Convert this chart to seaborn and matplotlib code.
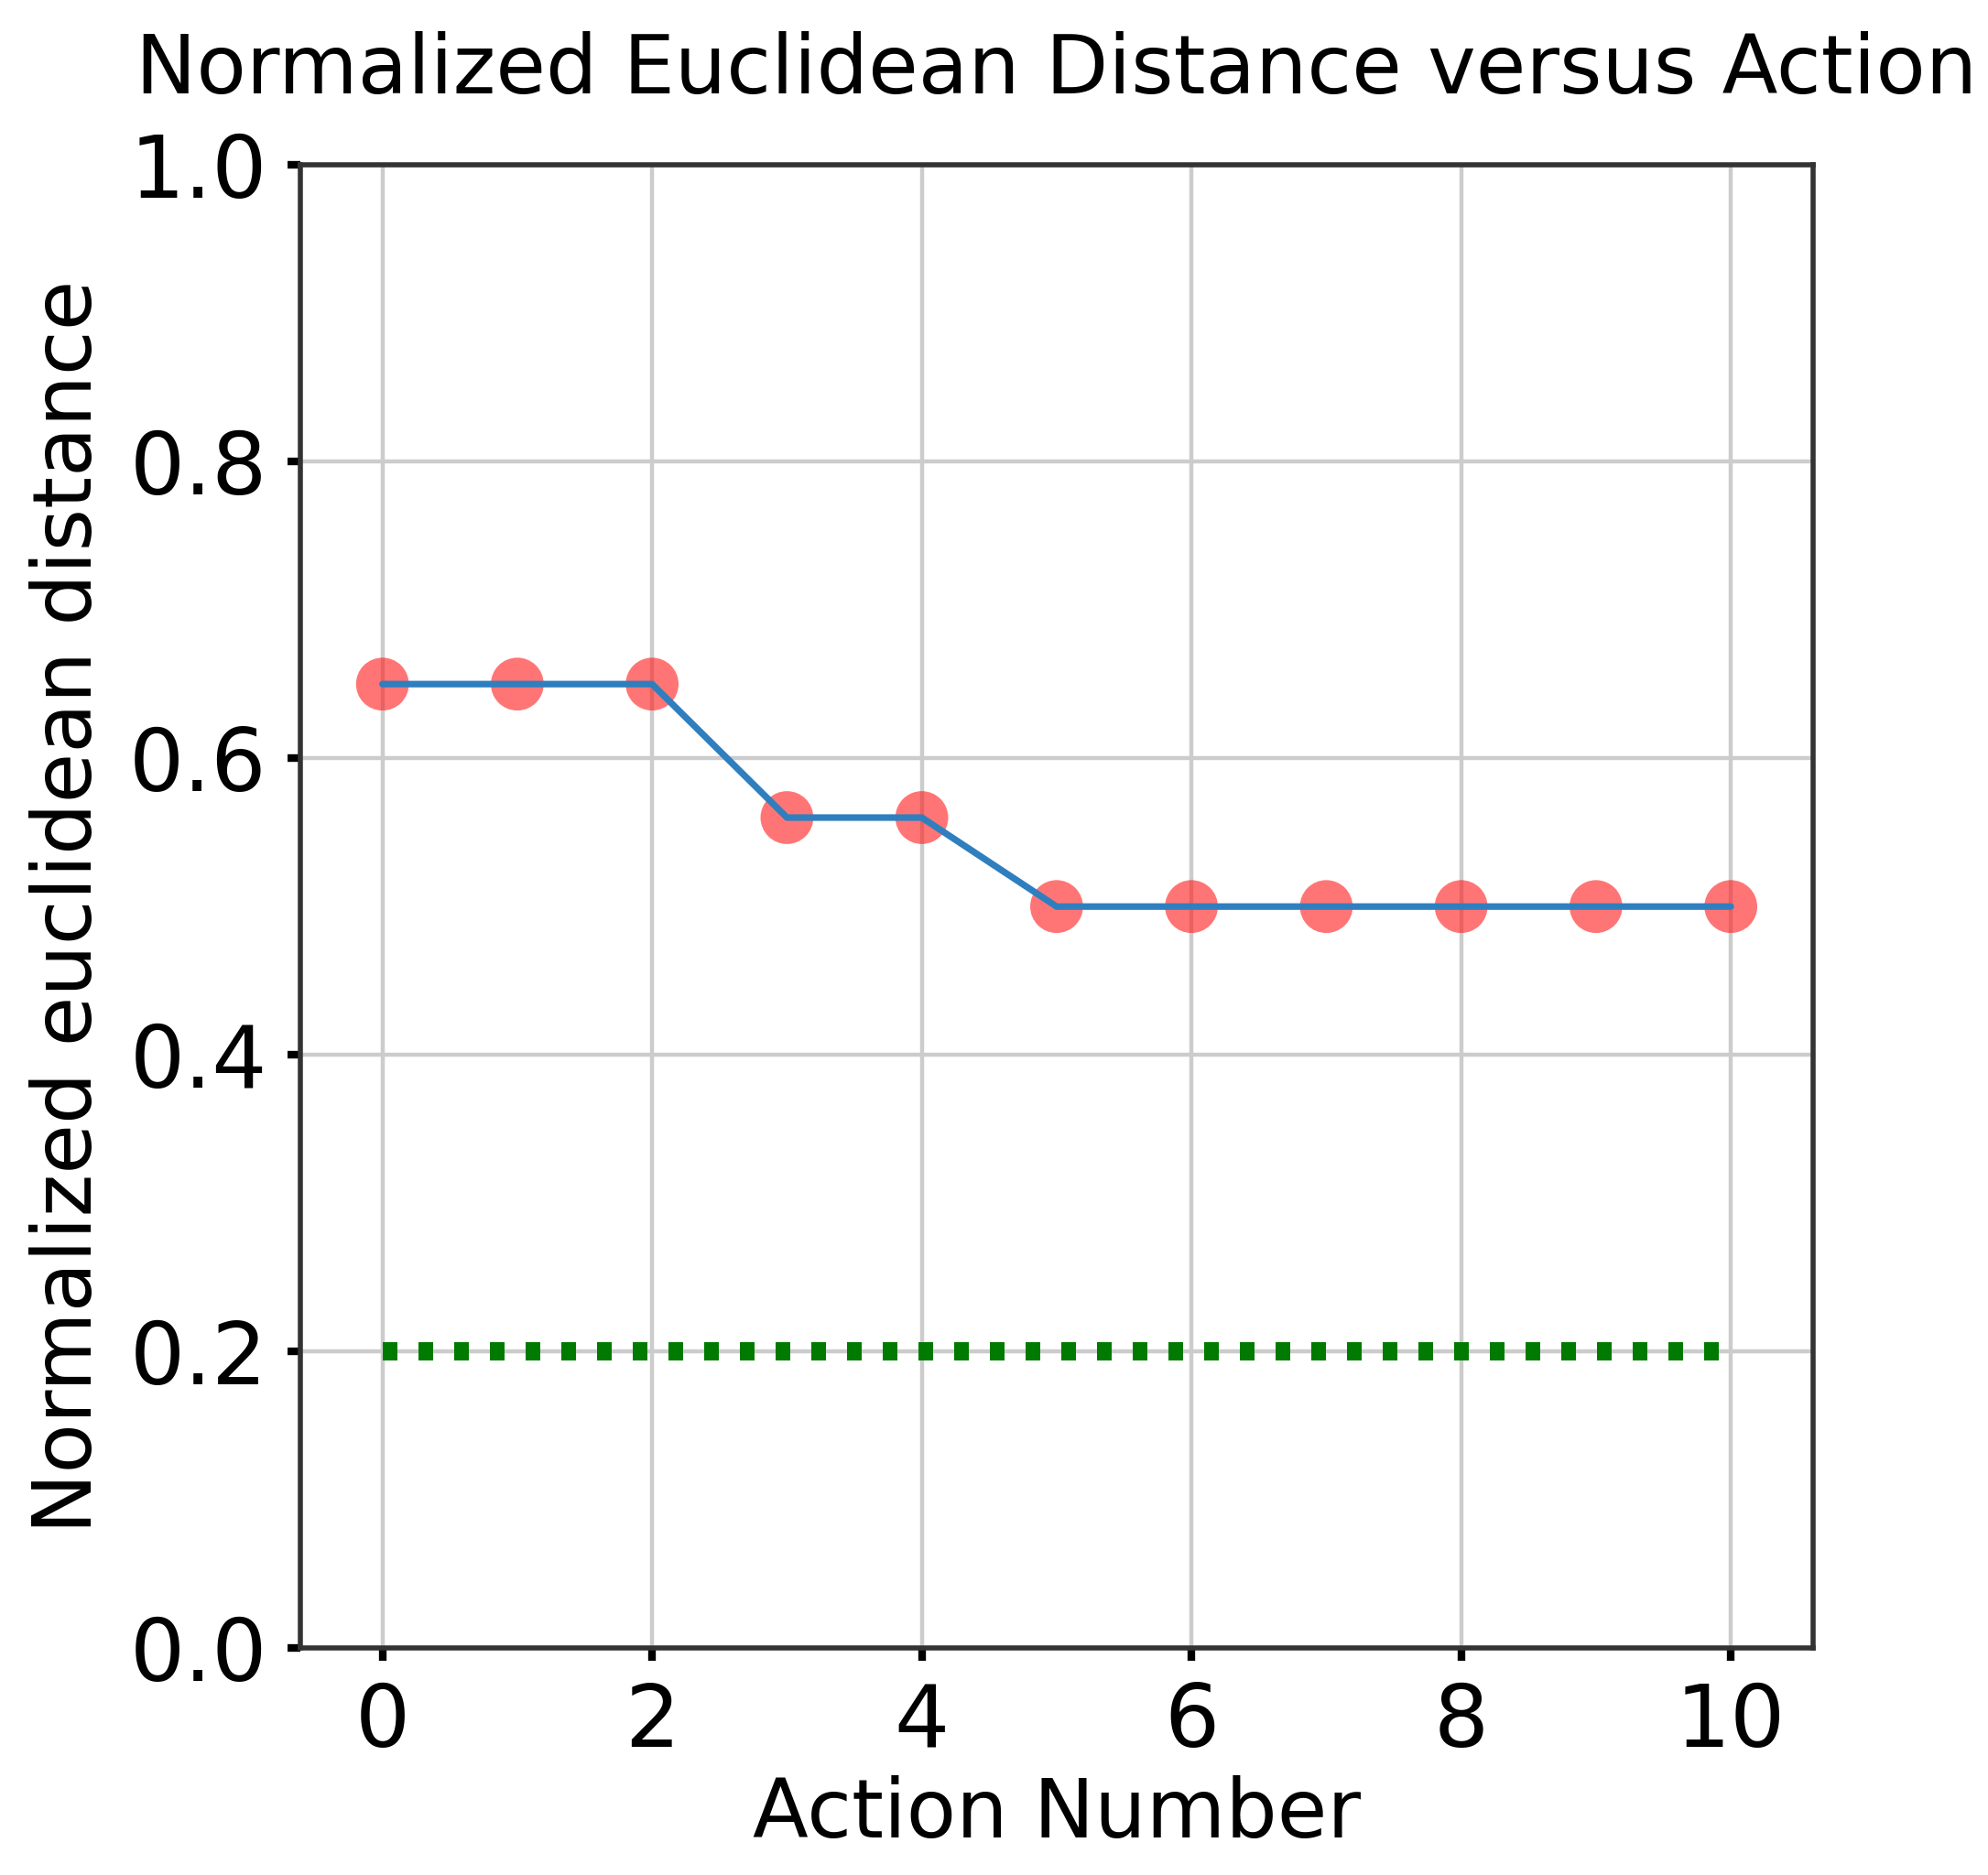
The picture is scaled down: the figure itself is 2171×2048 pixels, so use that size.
import matplotlib
matplotlib.use("Agg")
import matplotlib.pyplot as plt
import seaborn as sns
import pandas as pd
import numpy as np

actions = [0, 1, 2, 3, 4, 5, 6, 7, 8, 9, 10]
distance = [0.65, 0.65, 0.65, 0.56, 0.56, 0.50, 0.50, 0.50, 0.50, 0.50, 0.50]
threshold = [0.2] * len(actions)
yticks = [0.0, 0.2, 0.4, 0.6, 0.8, 1.0]
xticks = [0, 2, 4, 6, 8, 10]

df = pd.DataFrame({"action": actions, "distance": distance, "threshold": threshold})

sns.set_style("white")
plt.rcParams['font.family'] = ['DejaVu Sans']
plt.rcParams['text.color'] = 'black'
plt.rcParams['axes.labelcolor'] = 'black'
plt.rcParams['xtick.color'] = 'black'
plt.rcParams['ytick.color'] = 'black'

DPI = 400
fig = plt.figure(figsize=(2171 / DPI, 2048 / DPI), dpi=DPI)
ax = fig.add_axes([0.151, 0.121, 0.761, 0.791])

ax.grid(True, color="#cccccc", linewidth=0.8, zorder=0)

sns.scatterplot(data=df, x="action", y="distance", ax=ax, color="#ff1a1a", alpha=0.6,
                s=108, edgecolor="none", zorder=3)
sns.lineplot(data=df, x="action", y="distance", ax=ax, color="#2f7fbf", linewidth=1.3, zorder=4)
sns.lineplot(data=df, x="action", y="threshold", ax=ax, color="#007a00", linewidth=3.6,
             linestyle=(0, (0.8, 1.15)), zorder=4)
for l in ax.get_lines():
    l.set_dash_capstyle("butt")

ax.set_xlim(-0.61, 10.61)
ax.set_ylim(0.0, 1.0)
ax.set_xticks(xticks)
ax.set_yticks(yticks)
ax.set_xticklabels([str(t) for t in xticks])
ax.set_yticklabels([f"{t:.1f}" for t in yticks])
ax.tick_params(axis="both", which="major", direction="out", length=2.5, width=1.5,
               labelsize=17, pad=4, color="black", labelcolor="black", bottom=True, left=True)

for sp in ax.spines.values():
    sp.set_visible(True)
    sp.set_color("#333333")
    sp.set_linewidth(1.0)

ax.set_xlabel("Action Number", fontsize=16, labelpad=2, color="black")
ax.set_ylabel("Normalized euclidean distance", fontsize=16, labelpad=4, color="black")
ax.set_title("Normalized Euclidean Distance versus Action", fontsize=16, pad=14, color="black")

fig.savefig("out.png", dpi=DPI, facecolor="white")
